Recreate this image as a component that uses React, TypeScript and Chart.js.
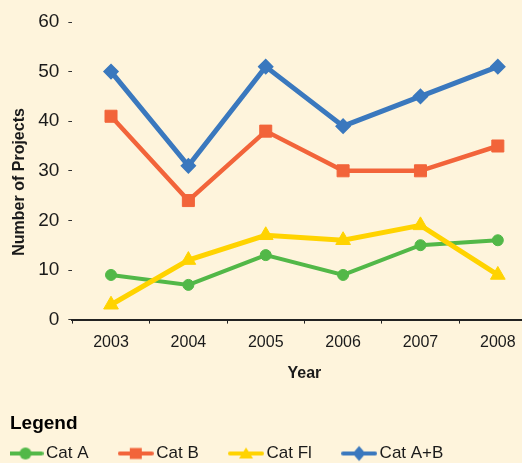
import React, { useEffect, useRef } from "react";
import { Chart, registerables } from "chart.js";

Chart.register(...registerables);

const years = ["2003", "2004", "2005", "2006", "2007", "2008"];
const catA = [9, 7, 13, 9, 15, 16];
const catB = [41, 24, 38, 30, 30, 35];
const catFl = [3, 12, 17, 16, 19, 9];
const catAB = [50, 31, 51, 39, 45, 51];
const seriesNames = ["Cat A", "Cat B", "Cat Fl", "Cat A+B"];
const yMin = 0;
const yMax = 60;
const yStep = 10;

const GREEN = "#52B848";
const ORANGE = "#F2643A";
const YELLOW = "#FFD300";
const BLUE = "#3A78BE";
const BG = "#FEF4DC";
const TEXT = "#1a1a1a";
const FONT = "'Liberation Sans', Arial, sans-serif";
const GAP = "      \u2009";
const YTITLE_PAD = "     ";

function legendGlyph(color: string, shape: string): HTMLCanvasElement {
  const c = document.createElement("canvas");
  c.width = 36;
  c.height = 18;
  const ctx = c.getContext("2d")!;
  ctx.strokeStyle = color;
  ctx.lineWidth = 4;
  ctx.lineCap = "round";
  ctx.beginPath();
  ctx.moveTo(2, 9);
  ctx.lineTo(34, 9);
  ctx.stroke();
  ctx.fillStyle = color;
  const cx = 18;
  const cy = 9;
  ctx.beginPath();
  if (shape === "circle") {
    ctx.arc(cx, cy, 6, 0, Math.PI * 2);
  } else if (shape === "rect") {
    ctx.rect(cx - 6, cy - 5.5, 12, 11);
  } else if (shape === "triangle") {
    ctx.moveTo(cx, cy - 6);
    ctx.lineTo(cx + 7, cy + 5);
    ctx.lineTo(cx - 7, cy + 5);
    ctx.closePath();
  } else {
    ctx.moveTo(cx, cy - 7.5);
    ctx.lineTo(cx + 6.5, cy);
    ctx.lineTo(cx, cy + 7.5);
    ctx.lineTo(cx - 6.5, cy);
    ctx.closePath();
  }
  ctx.fill();
  return c;
}

export default function App() {
  const ref = useRef<HTMLCanvasElement | null>(null);

  useEffect(() => {
    if (!ref.current) return;
    const colors = [GREEN, ORANGE, YELLOW, BLUE];
    const shapes = ["circle", "rect", "triangle", "rectRot"];
    const glyphs = colors.map((c, i) => legendGlyph(c, shapes[i]));

    const chart = new Chart(ref.current, {
      type: "line",
      data: {
        labels: years,
        datasets: [
          {
            label: seriesNames[0],
            data: catA,
            borderColor: GREEN,
            backgroundColor: GREEN,
            borderWidth: 4,
            pointStyle: "circle",
            pointRadius: 5.5,
            pointBorderWidth: 1,
            order: 3,
          },
          {
            label: seriesNames[1],
            data: catB,
            borderColor: ORANGE,
            backgroundColor: ORANGE,
            borderWidth: 4.5,
            pointStyle: "rect",
            pointRadius: 8.5,
            pointBorderWidth: 1,
            order: 2,
          },
          {
            label: seriesNames[2],
            data: catFl,
            borderColor: YELLOW,
            backgroundColor: YELLOW,
            borderWidth: 5,
            pointStyle: "triangle",
            pointRadius: 8.5,
            pointBorderWidth: 1,
            order: 1,
          },
          {
            label: seriesNames[3],
            data: catAB,
            borderColor: BLUE,
            backgroundColor: BLUE,
            borderWidth: 5,
            pointStyle: "rectRot",
            pointRadius: 7,
            pointBorderWidth: 1.5,
            order: 0,
          },
        ],
      },
      options: {
        responsive: false,
        animation: false,
        devicePixelRatio: 1,
        layout: { padding: { left: 10, top: 22, right: 4, bottom: 0 } },
        elements: { line: { tension: 0 } },
        scales: {
          x: {
            type: "category",
            offset: true,
            grid: {
              offset: true,
              drawOnChartArea: false,
              drawTicks: true,
              tickLength: 4,
              color: "#222",
              lineWidth: 1,
            },
            border: { display: true, color: "#222", width: 2 },
            ticks: {
              color: TEXT,
              font: { family: FONT, size: 16 },
              padding: 9,
              maxRotation: 0,
              autoSkip: false,
            },
            title: {
              display: true,
              text: "Year",
              color: TEXT,
              font: { family: FONT, size: 16, weight: "bold" },
              padding: { top: 3, bottom: 19 },
            },
          },
          y: {
            min: yMin,
            max: yMax,
            grid: {
              drawOnChartArea: false,
              drawTicks: true,
              tickLength: 4,
              color: "#333",
              lineWidth: 1,
            },
            border: { display: false },
            ticks: {
              stepSize: yStep,
              color: TEXT,
              font: { family: FONT, size: 19 },
              padding: 9,
            },
            title: {
              display: true,
              text: "Number of Projects" + YTITLE_PAD,
              color: TEXT,
              font: { family: FONT, size: 16, weight: "bold" },
              padding: { top: 0, bottom: 0 },
            },
          },
        },
        plugins: {
          tooltip: { enabled: false },
          legend: {
            display: true,
            position: "bottom",
            align: "start",
            title: {
              display: true,
              text: "Legend",
              position: "start",
              color: "#000",
              font: { family: FONT, size: 19, weight: "bold" },
              padding: { top: 12, bottom: 4.7 },
            },
            labels: {
              usePointStyle: true,
              pointStyleWidth: 24,
              padding: 3.5,
              color: TEXT,
              font: { family: FONT, size: 17 },
              generateLabels: (ch: any) =>
                ch.data.datasets.map((ds: any, i: number) => ({
                  text: seriesNames[i] + GAP,
                  pointStyle: glyphs[i],
                  fillStyle: "rgba(0,0,0,0)",
                  strokeStyle: "rgba(0,0,0,0)",
                  lineWidth: 0,
                  hidden: false,
                  datasetIndex: i,
                  fontColor: TEXT,
                })),
            },
          },
        },
      },
    });
    return () => chart.destroy();
  }, []);

  return (
    <div
      style={{
        position: "fixed",
        left: 0,
        top: 0,
        width: 522,
        height: 463,
        overflow: "hidden",
        background: BG,
      }}
    >
      <canvas
        ref={ref}
        width={546}
        height={472}
        style={{ display: "block", width: 546, height: 472 }}
      />
    </div>
  );
}
